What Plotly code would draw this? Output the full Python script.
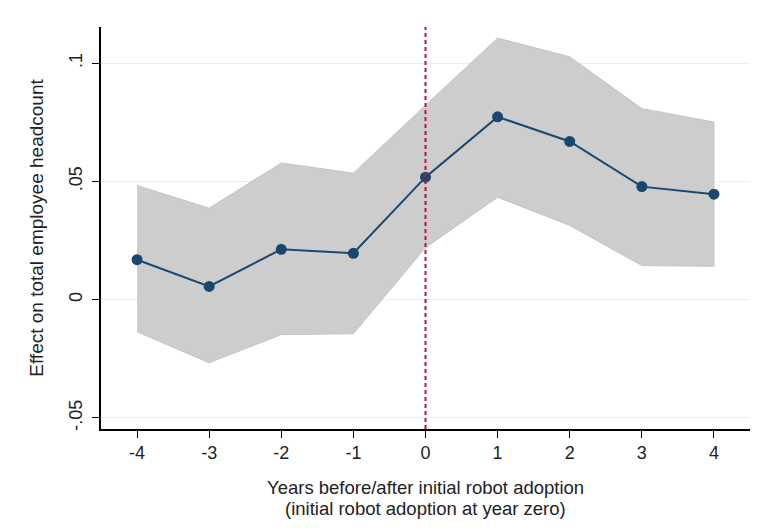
import plotly.graph_objects as go

years = [-4, -3, -2, -1, 0, 1, 2, 3, 4]
effect = [0.0169, 0.0056, 0.0213, 0.0196, 0.0518, 0.0773, 0.0669, 0.0478, 0.0446]
ci_upper = [0.0483, 0.0387, 0.0578, 0.0535, 0.0822, 0.1106, 0.1027, 0.0808, 0.0751]
ci_lower = [-0.0136, -0.0267, -0.0148, -0.0144, 0.0220, 0.0433, 0.0314, 0.0144, 0.0141]
y_tickvals = [-0.05, 0, 0.05, 0.1]
y_ticktext = ["-.05", "0", ".05", ".1"]
x_tickvals = years
x_ticktext = [str(v) for v in years]
x_title_lines = ["Years before/after initial robot adoption",
                 "(initial robot adoption at year zero)"]
y_title = "Effect on total employee headcount"

FONT = "Liberation Sans, Arial, sans-serif"
NAVY = "#1a476f"

fig = go.Figure()
fig.add_trace(go.Scatter(
    x=years + years[::-1], y=ci_upper + ci_lower[::-1],
    fill="toself", fillcolor="#cdcdcd", line=dict(color="#c4c4c4", width=1),
    mode="lines", hoverinfo="skip", showlegend=False))
fig.add_trace(go.Scatter(
    x=years, y=effect, mode="lines+markers",
    line=dict(color=NAVY, width=2), marker=dict(color=NAVY, size=11),
    showlegend=False))
fig.add_shape(type="line", x0=0, x1=0, y0=0, y1=1, xref="x", yref="paper",
              line=dict(color="#c0103f", width=2, dash="4px,3px"))

# two-line x title with tight line spacing
for i, txt in enumerate(x_title_lines):
    fig.add_annotation(text=txt, xref="paper", yref="paper", x=0.5, y=0,
                       xanchor="center", yanchor="middle", showarrow=False,
                       yshift=-(58 + 21 * i), font=dict(size=18.5, color="#222222"))

fig.update_layout(
    width=773, height=532,
    margin=dict(l=101, r=23, t=27, b=103),
    paper_bgcolor="white", plot_bgcolor="white",
    font=dict(family=FONT, size=18, color="#222222"),
    xaxis=dict(range=[-4.5, 4.5], tickvals=x_tickvals, ticktext=x_ticktext,
               showgrid=False, zeroline=False, showline=True, linecolor="black",
               linewidth=1.5, ticks="outside", ticklen=7, tickcolor="black",
               tickfont=dict(size=18)),
    yaxis=dict(range=[-0.0547, 0.1153], tickvals=y_tickvals, ticktext=y_ticktext,
               tickangle=-90, showgrid=True, gridcolor="#e6eff1", gridwidth=1.2,
               zeroline=False, showline=True, linecolor="black", linewidth=1.5,
               ticks="outside", ticklen=7, tickcolor="black", tickfont=dict(size=18),
               ticklabelstandoff=3,
               title=dict(text=y_title, font=dict(size=19), standoff=17)),
)
fig.write_html("out.html")
